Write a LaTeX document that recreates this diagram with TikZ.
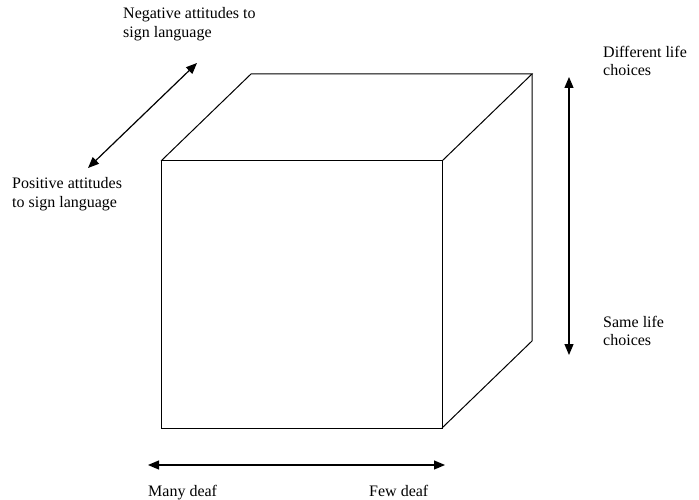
\documentclass[tikz,border=0pt]{standalone}
\usepackage{fontspec}
\setmainfont{Liberation Serif}
\usetikzlibrary{arrows.meta}
\tikzset{
  edge/.style={line width=1pt, line join=miter},
  axis/.style={line width=1.2pt, {Triangle[length=11pt,width=9pt]}-{Triangle[length=11pt,width=9pt]}},
  lbl/.style={inner sep=0pt, anchor=base west, align=left, font=\fontsize{16}{18.5}\selectfont}
}
\begin{document}
\begin{tikzpicture}[x=1pt,y=-1pt]
\useasboundingbox (0,0) rectangle (699,500);
% cube corners
\coordinate (ftl) at (161,161);
\coordinate (ftr) at (442,161);
\coordinate (fbr) at (442,428);
\coordinate (fbl) at (161,428);
\coordinate (btl) at (251,74);
\coordinate (btr) at (532,74);
\coordinate (bbr) at (532,341);
\draw[edge] (ftl) -- (ftr) -- (fbr) -- (fbl) -- cycle;
\draw[edge] (ftl) -- (btl) -- (btr) -- (ftr);
\draw[edge] (btr) -- (bbr) -- (fbr);
% axes
\coordinate (d1) at (88,168);
\coordinate (d2) at (197,63);
\draw[axis] (d1) -- (d2);
\coordinate (v1) at (569,77);
\coordinate (v2) at (569,355);
\draw[axis] (v1) -- (v2);
\coordinate (h1) at (148,465);
\coordinate (h2) at (445,465);
\draw[axis] (h1) -- (h2);
% labels (anchor = baseline of last line)
\node[lbl] (neg) at (123,37.5) {Negative attitudes to\\sign language};
\node[lbl] (pos) at (12,207.5) {Positive attitudes\\to sign language};
\node[lbl] (diff) at (603,76) {Different life\\choices};
\node[lbl] (same) at (603,345.5) {Same life\\choices};
\node[lbl] (many) at (148,496) {Many deaf};
\node[lbl] (few) at (369,496) {Few deaf};
\end{tikzpicture}
\end{document}
